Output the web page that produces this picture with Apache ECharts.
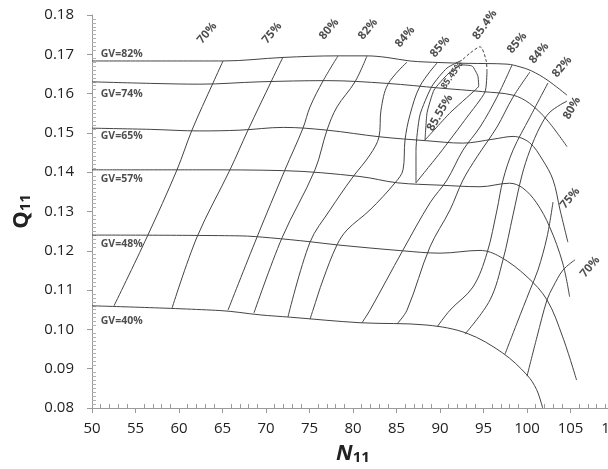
<!DOCTYPE html>
<html>
<head>
<meta charset="utf-8">
<script src="https://cdn.jsdelivr.net/npm/echarts@6/dist/echarts.min.js"></script>
<style>
  html, body { margin: 0; padding: 0; background: #fff; }
  #chart { width: 608px; height: 469px; }
</style>
</head>
<body>
<div id="chart"></div>
<script>
// guide vane opening lines (N11, Q11)
const gv82 = [[50,0.1683],[65.06,0.1683],[71.95,0.1692],[78.16,0.1696],[81.6,0.1696],[83.9,0.1692],[86.55,0.1683],[90.0,0.1679],[93.1,0.1677],[97.7,0.1675],[99.2,0.1668],[100.5,0.1658],[102.3,0.1635],[104.6,0.1596]];
const gv74 = [[50,0.1630],[56.7,0.1626],[62.4,0.1624],[69.3,0.1630],[77.0,0.1633],[83.9,0.1626],[90.0,0.1614],[94.9,0.1605],[98.4,0.1596],[100.3,0.1575],[102.3,0.1533],[104.6,0.1465]];
const gv65 = [[50,0.1512],[56.7,0.1509],[62.4,0.1505],[67.0,0.1507],[72.0,0.1514],[77.0,0.1507],[83.1,0.1490],[88.5,0.1480],[92.6,0.1474],[96.1,0.1484],[98.4,0.1491],[100.3,0.1475],[101.8,0.1431],[103.0,0.1380],[103.8,0.1304],[104.7,0.1222]];
const gv57 = [[50,0.1406],[62.4,0.1406],[72.0,0.1404],[80.8,0.1389],[85.1,0.1373],[90.0,0.1367],[94.6,0.1363],[98.0,0.1372],[99.5,0.1360],[101.1,0.1322],[102.6,0.1261],[104.1,0.1169],[104.9,0.1083]];
const gv48 = [[50,0.1240],[67.0,0.1238],[70.5,0.1233],[75.1,0.1223],[78.2,0.1215],[85.7,0.1200],[90.0,0.1194],[94.6,0.1201],[96.9,0.1185],[100.0,0.1134],[102.3,0.1075],[104.1,0.0981],[105.7,0.0871]];
const gv40 = [[50,0.1060],[64.7,0.1048],[69.3,0.1037],[72.8,0.1031],[80.8,0.1017],[88.5,0.1011],[93.1,0.0990],[97.2,0.0940],[100.0,0.0884],[101.1,0.0847],[101.8,0.0800]];

// efficiency contours, left branches
const eff70L = [[65.06,0.1683],[63.91,0.1627],[61.49,0.1507],[59.77,0.1406],[56.32,0.1235],[52.53,0.1060]];
const eff75L = [[71.95,0.1693],[70.69,0.1635],[67.93,0.1507],[65.86,0.1406],[62.07,0.1235],[59.20,0.1054]];
const eff80L = [[78.28,0.1696],[76.55,0.1632],[75.06,0.1566],[74.25,0.1512],[72.18,0.1406],[68.97,0.1235],[65.63,0.1049]];
const eff82L = [[81.61,0.1696],[80.23,0.1630],[78.16,0.1566],[77.01,0.1507],[75.63,0.1406],[71.84,0.1233],[68.62,0.1042]];
const eff84L = [[86.21,0.1680],[84.02,0.1624],[83.22,0.1558],[82.99,0.1490],[81.95,0.1444],[79.89,0.1385],[77.36,0.1304],[75.06,0.1222],[72.53,0.1032]];
const eff85L = [[89.66,0.1678],[87.70,0.1619],[86.55,0.1546],[85.98,0.1482],[85.75,0.1406],[84.83,0.1373],[81.95,0.1304],[79.31,0.1253],[78.16,0.1215],[76.55,0.1126],[75.40,0.1049],[75.06,0.1026]];
// right branches
const eff85R = [[98.28,0.1673],[96.55,0.1591],[94.60,0.1515],[92.64,0.1456],[90.80,0.1380],[88.85,0.1322],[85.75,0.1202],[81.95,0.1049],[81.03,0.1017]];
const eff84R = [[100.34,0.1655],[98.39,0.1591],[96.55,0.1515],[94.25,0.1439],[92.64,0.1380],[91.15,0.1304],[88.85,0.1210],[86.21,0.1049],[85.06,0.1014]];
const eff82R = [[102.41,0.1627],[100.34,0.1540],[98.39,0.1456],[97.24,0.1380],[96.55,0.1304],[95.40,0.1194],[93.79,0.1108],[91.15,0.1049],[89.66,0.1006]];
const eff80R = [[104.60,0.1581],[102.64,0.1553],[101.49,0.1515],[100.34,0.1456],[99.43,0.1393],[98.39,0.1291],[97.24,0.1177],[95.75,0.1075],[92.87,0.0988]];
const eff75R = [[102.99,0.1324],[102.30,0.1235],[101.26,0.1151],[100.34,0.1100],[98.85,0.1016],[97.47,0.0937]];
const eff70R = [[105.52,0.1177],[104.14,0.1151],[102.99,0.1108],[102.30,0.1075],[101.15,0.0981],[100.0,0.0881]];
// peak region
const eff854 = [[92.53,0.1685],[90.80,0.1665],[89.08,0.1619],[87.70,0.1546],[87.24,0.1456],[87.24,0.1373],[90.0,0.1449],[93.10,0.1540],[95.17,0.1604],[95.40,0.1655]];
const eff854Dash = [[95.40,0.1655],[95.29,0.1685],[94.60,0.1719],[93.45,0.1703],[92.53,0.1685]];
const eff8545 = [[88.28,0.1482],[88.51,0.1551],[89.31,0.1609],[90.92,0.1650],[92.53,0.1673],[93.71,0.1670],[94.35,0.1645],[94.45,0.1619],[94.04,0.1609],[91.15,0.1551],[88.28,0.1482]];

// labels: [N11, Q11, text]
const gvLabels = [[51.0,0.1701,'GV=82%'],[51.0,0.1599,'GV=74%'],[51.0,0.1492,'GV=65%'],[51.0,0.1383,'GV=57%'],[51.0,0.1217,'GV=48%'],[51.0,0.1021,'GV=40%']];
const effLabels = [[63.22,0.1754,'70%'],[70.69,0.1754,'75%'],[77.24,0.1764,'80%'],[81.72,0.1764,'82%'],[85.98,0.1744,'84%'],[90.0,0.1719,'85%'],[95.17,0.1775,'85.4%'],[98.85,0.1729,'85%'],[101.38,0.1703,'84%'],[104.02,0.1668,'82%'],[105.17,0.1563,'80%'],[104.94,0.1334,'75%'],[107.24,0.1159,'70%'],[91.38,0.1647,'85.45%'],[90.0,0.1551,'85.55%']];
const effLabelRot = [50,50,50,50,50,50,55,50,50,50,60,50,50,55,60];

const xTicks = { min: 50, max: 110, interval: 5 };
const yTicks = { min: 0.08, max: 0.18, interval: 0.01 };

const FONT = 'Open Sans';
const LINE = '#444';

const chart = echarts.init(document.getElementById('chart'));

const lineSeries = (data, dashed, smooth) => ({
  type: 'line',
  data: data,
  xAxisIndex: 0,
  yAxisIndex: 0,
  smooth: smooth,
  symbol: 'none',
  silent: true,
  lineStyle: { color: LINE, width: 1, type: dashed ? [3, 2] : 'solid' }
});

const allLines = [gv82, gv74, gv65, gv57, gv48, gv40,
  eff70L, eff75L, eff80L, eff82L, eff84L, eff85L,
  eff85R, eff84R, eff82R, eff80R, eff75R, eff70R];

const series = allLines.map(d => lineSeries(d, false, 0.35));
// peak loops get less smoothing so they stay narrow
series.push(lineSeries(eff854, false, 0.2));
series.push(lineSeries(eff8545, false, 0.15));
series.push(lineSeries(eff854Dash, true, 0.3));

series.push({
  type: 'scatter',
  symbolSize: 0,
  silent: true,
  data: gvLabels.map(d => ({ value: [d[0], d[1]], name: d[2] })),
  label: {
    show: true, position: 'right', distance: 0,
    formatter: p => p.name,
    fontFamily: FONT, fontWeight: 'bold', fontSize: 10.5, color: '#222'
  }
});

series.push({
  type: 'scatter',
  symbolSize: 0,
  silent: true,
  data: effLabels.map((d, i) => ({
    value: [d[0], d[1]], name: d[2],
    label: { rotate: effLabelRot[i], fontSize: d[2] === '85.45%' ? 9 : 11.5 }
  })),
  label: {
    show: true, position: 'inside',
    formatter: p => p.name,
    fontFamily: FONT, fontWeight: 'bold', color: '#222'
  }
});

const gridBox = { left: 92, top: 15, right: -6, bottom: 61, containLabel: false, outerBoundsMode: 'none' };

chart.setOption({
  animation: false,
  backgroundColor: '#fff',
  grid: [Object.assign({}, gridBox), Object.assign({}, gridBox)],
  xAxis: [{
    type: 'value', gridIndex: 0,
    min: xTicks.min, max: xTicks.max, interval: xTicks.interval,
    splitLine: { show: false },
    axisLine: { lineStyle: { color: '#9a9a9a' } },
    axisTick: { show: true, length: 5, lineStyle: { color: '#9a9a9a' } },
    axisLabel: { margin: 13, fontFamily: FONT, fontSize: 15, color: '#222' },
    name: '{n|N}{s|11}', nameLocation: 'middle', nameGap: 34,
    nameTextStyle: {
      rich: {
        n: { fontFamily: FONT, fontSize: 22, fontWeight: 'bold', fontStyle: 'italic', color: '#222' },
        s: { fontFamily: FONT, fontSize: 15, fontWeight: 'bold', color: '#222', padding: [8, 0, 0, 0] }
      }
    }
  }, {
    type: 'value', gridIndex: 1,
    min: xTicks.min, max: xTicks.max, interval: xTicks.interval,
    splitLine: { show: false },
    axisLine: { show: false },
    axisLabel: { show: false },
    axisTick: { show: false, inside: true },
    minorTick: { show: true, splitNumber: 5, length: 4, lineStyle: { color: '#9a9a9a' } }
  }],
  yAxis: [{
    type: 'value', gridIndex: 0,
    min: yTicks.min, max: yTicks.max, interval: yTicks.interval,
    splitLine: { show: false },
    axisLine: { show: true, lineStyle: { color: '#9a9a9a' } },
    axisTick: { show: true, length: 5, lineStyle: { color: '#9a9a9a' } },
    axisLabel: { margin: 18, fontFamily: FONT, fontSize: 15, color: '#222', formatter: v => v.toFixed(2) },
    name: '{q|Q}{s|11}', nameLocation: 'middle', nameGap: 52, nameRotate: 90,
    nameTextStyle: {
      rich: {
        q: { fontFamily: FONT, fontSize: 22, fontWeight: 'bold', color: '#222' },
        s: { fontFamily: FONT, fontSize: 15, fontWeight: 'bold', color: '#222', padding: [8, 0, 0, 0] }
      }
    }
  }, {
    type: 'value', gridIndex: 1,
    min: yTicks.min, max: yTicks.max, interval: yTicks.interval,
    splitLine: { show: false },
    axisLine: { show: false },
    axisLabel: { show: false },
    axisTick: { show: false, inside: true },
    minorTick: { show: true, splitNumber: 10, length: 4, lineStyle: { color: '#b0b0b0' } }
  }],
  series: series
});
</script>
</body>
</html>
